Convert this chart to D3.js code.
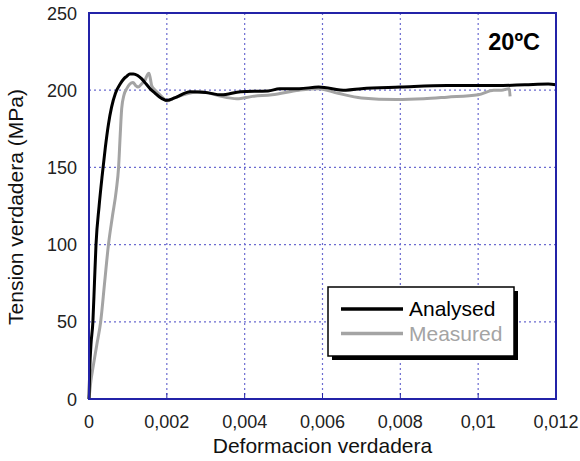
<!DOCTYPE html>
<html>
<head>
<meta charset="utf-8">
<script src="https://cdn.jsdelivr.net/npm/d3@7"></script>
<style>
    body { margin: 0; background: #fff; }
    svg { display: block; font-family: "Liberation Sans", Arial, sans-serif; }
</style>
</head>
<body>
<svg id="chart" width="580" height="461"></svg>
<script>
// tick values / labels
var xTicks = [0, 0.002, 0.004, 0.006, 0.008, 0.01, 0.012];
var xTickLabels = ["0", "0,002", "0,004", "0,006", "0,008", "0,01", "0,012"];
var yTicks = [0, 50, 100, 150, 200, 250];

// [deformacion, tension MPa]
var analysedStrain = [0, 0.00002, 0.00005, 0.0001, 0.00014, 0.00018, 0.00026, 0.00034, 0.00042, 0.0005, 0.00058, 0.00068, 0.0008, 0.0009, 0.00097, 0.00105, 0.00114, 0.00125, 0.00135, 0.00147, 0.00157, 0.0017, 0.00182, 0.002, 0.0022, 0.0026, 0.003, 0.0034, 0.0039, 0.0046, 0.0049, 0.0054, 0.0059, 0.0066, 0.007, 0.008, 0.0092, 0.0105, 0.0112, 0.0118, 0.012];
var analysedStress = [0, 20, 35, 50, 75, 100, 125, 145, 163, 178, 189, 198, 204, 207.5, 209, 210.5, 210.5, 209.5, 207.5, 204, 201, 198, 195.5, 193.5, 195, 199, 198.5, 197, 199, 199.5, 201, 201, 202, 200, 201, 202, 203, 203, 203.5, 204, 203.5];

var measuredStrain = [0, 0.00005, 0.0001, 0.0002, 0.0003, 0.0004, 0.0005, 0.0006, 0.0007, 0.00076, 0.0008, 0.00084, 0.0009, 0.00097, 0.00105, 0.00113, 0.0012, 0.00126, 0.00135, 0.00144, 0.0015, 0.00154, 0.00158, 0.00161, 0.0017, 0.00182, 0.0019, 0.002, 0.0022, 0.00242, 0.00285, 0.0031, 0.0034, 0.0038, 0.0042, 0.0047, 0.0054, 0.0059, 0.0064, 0.007, 0.0079, 0.0086, 0.0092, 0.01, 0.0104, 0.0106, 0.0108, 0.01082];
var measuredStress = [0, 12, 20, 35, 50, 75, 100, 118, 135, 150, 170, 188, 197, 201, 204, 205, 203, 202, 204, 206.5, 210, 211, 207, 203, 200, 197, 195, 193, 195, 197, 199, 198, 196, 194.5, 196, 197, 200, 201, 198, 195, 194, 194.5, 195.5, 197, 200, 200, 201, 196];

var seriesNames = ["Analysed", "Measured"];
var seriesColors = ["#000000", "#a4a4a4"];

var svg = d3.select("#chart");
// plot box (window.top is reserved, so use a box object)
var box = { left: 89, right: 556, top: 13, bottom: 399 };
var frameColor = "#2323a8";

var x = d3.scaleLinear().domain([0, 0.012]).range([box.left, box.right]);
var y = d3.scaleLinear().domain([0, 250]).range([box.bottom, box.top]);

var pairs = function (xs, ys) {
    return xs.map(function (v, i) { return [v, ys[i]]; });
};

// dotted grid
var grid = svg.append("g").attr("class", "grid");
grid.selectAll("line.vx")
    .data(xTicks.slice(1, -1))
    .enter().append("line")
    .attr("x1", function (d) { return x(d); })
    .attr("x2", function (d) { return x(d); })
    .attr("y1", box.top).attr("y2", box.bottom)
    .attr("stroke", "#6b6bd0").attr("stroke-width", 1.2)
    .attr("stroke-dasharray", "2,3");
grid.selectAll("line.hy")
    .data(yTicks.slice(1, -1))
    .enter().append("line")
    .attr("y1", function (d) { return y(d); })
    .attr("y2", function (d) { return y(d); })
    .attr("x1", box.left).attr("x2", box.right)
    .attr("stroke", "#6b6bd0").attr("stroke-width", 1.2)
    .attr("stroke-dasharray", "2,3");

// small inward ticks on the bottom axis
svg.append("g").selectAll("line")
    .data(xTicks.slice(1, -1))
    .enter().append("line")
    .attr("x1", function (d) { return x(d); })
    .attr("x2", function (d) { return x(d); })
    .attr("y1", box.bottom).attr("y2", box.bottom - 6)
    .attr("stroke", frameColor).attr("stroke-width", 1);

// curves
var line = d3.line()
    .x(function (d) { return x(d[0]); })
    .y(function (d) { return y(d[1]); })
    .curve(d3.curveMonotoneX);

svg.append("path")
    .datum(pairs(measuredStrain, measuredStress))
    .attr("d", line)
    .attr("fill", "none")
    .attr("stroke", seriesColors[1]).attr("stroke-width", 3)
    .attr("stroke-linejoin", "round");
svg.append("path")
    .datum(pairs(analysedStrain, analysedStress))
    .attr("d", line)
    .attr("fill", "none")
    .attr("stroke", seriesColors[0]).attr("stroke-width", 3)
    .attr("stroke-linejoin", "round");

// frame
svg.append("rect")
    .attr("x", box.left).attr("y", box.top)
    .attr("width", box.right - box.left).attr("height", box.bottom - box.top)
    .attr("fill", "none")
    .attr("stroke", frameColor).attr("stroke-width", 2);

// tick labels
svg.append("g").selectAll("text")
    .data(xTicks)
    .enter().append("text")
    .attr("x", function (d) { return x(d); })
    .attr("y", box.bottom + 29)
    .attr("text-anchor", "middle")
    .attr("font-size", 18)
    .attr("fill", "#222")
    .text(function (d, i) { return xTickLabels[i]; });
svg.append("g").selectAll("text")
    .data(yTicks)
    .enter().append("text")
    .attr("x", box.left - 12)
    .attr("y", function (d) { return y(d) + 6.5; })
    .attr("text-anchor", "end")
    .attr("font-size", 18)
    .attr("fill", "#222")
    .text(function (d) { return d; });

// axis titles
svg.append("text")
    .attr("x", (box.left + box.right) / 2).attr("y", 453)
    .attr("text-anchor", "middle")
    .attr("font-size", 21).attr("fill", "#111")
    .text("Deformacion verdadera");
svg.append("text")
    .attr("transform", "translate(23," + ((box.top + box.bottom) / 2 + 1) + ") rotate(-90)")
    .attr("text-anchor", "middle")
    .attr("font-size", 21).attr("fill", "#111")
    .text("Tension verdadera (MPa)");

svg.append("text")
    .attr("x", 540).attr("y", 50)
    .attr("text-anchor", "end")
    .attr("font-size", 23.5).attr("font-weight", "bold").attr("fill", "#000")
    .text("20ºC");

// legend with drop shadow
var legend = svg.append("g").attr("transform", "translate(328,287)");
legend.append("rect")
    .attr("x", 4).attr("y", 4).attr("width", 186).attr("height", 69)
    .attr("fill", "#000");
legend.append("rect")
    .attr("x", 0).attr("y", 0).attr("width", 186).attr("height", 69)
    .attr("fill", "#fff").attr("stroke", "#000").attr("stroke-width", 1.5);
var items = legend.selectAll("g.item")
    .data(seriesNames)
    .enter().append("g")
    .attr("transform", function (d, i) { return "translate(0," + (22 + i * 24.5) + ")"; });
items.append("line")
    .attr("x1", 13).attr("x2", 75).attr("y1", 0).attr("y2", 0)
    .attr("stroke", function (d, i) { return seriesColors[i]; })
    .attr("stroke-width", 3.5);
items.append("text")
    .attr("x", 81).attr("y", 7)
    .attr("font-size", 21)
    .attr("fill", function (d, i) { return seriesColors[i]; })
    .text(function (d) { return d; });
</script>
</body>
</html>
